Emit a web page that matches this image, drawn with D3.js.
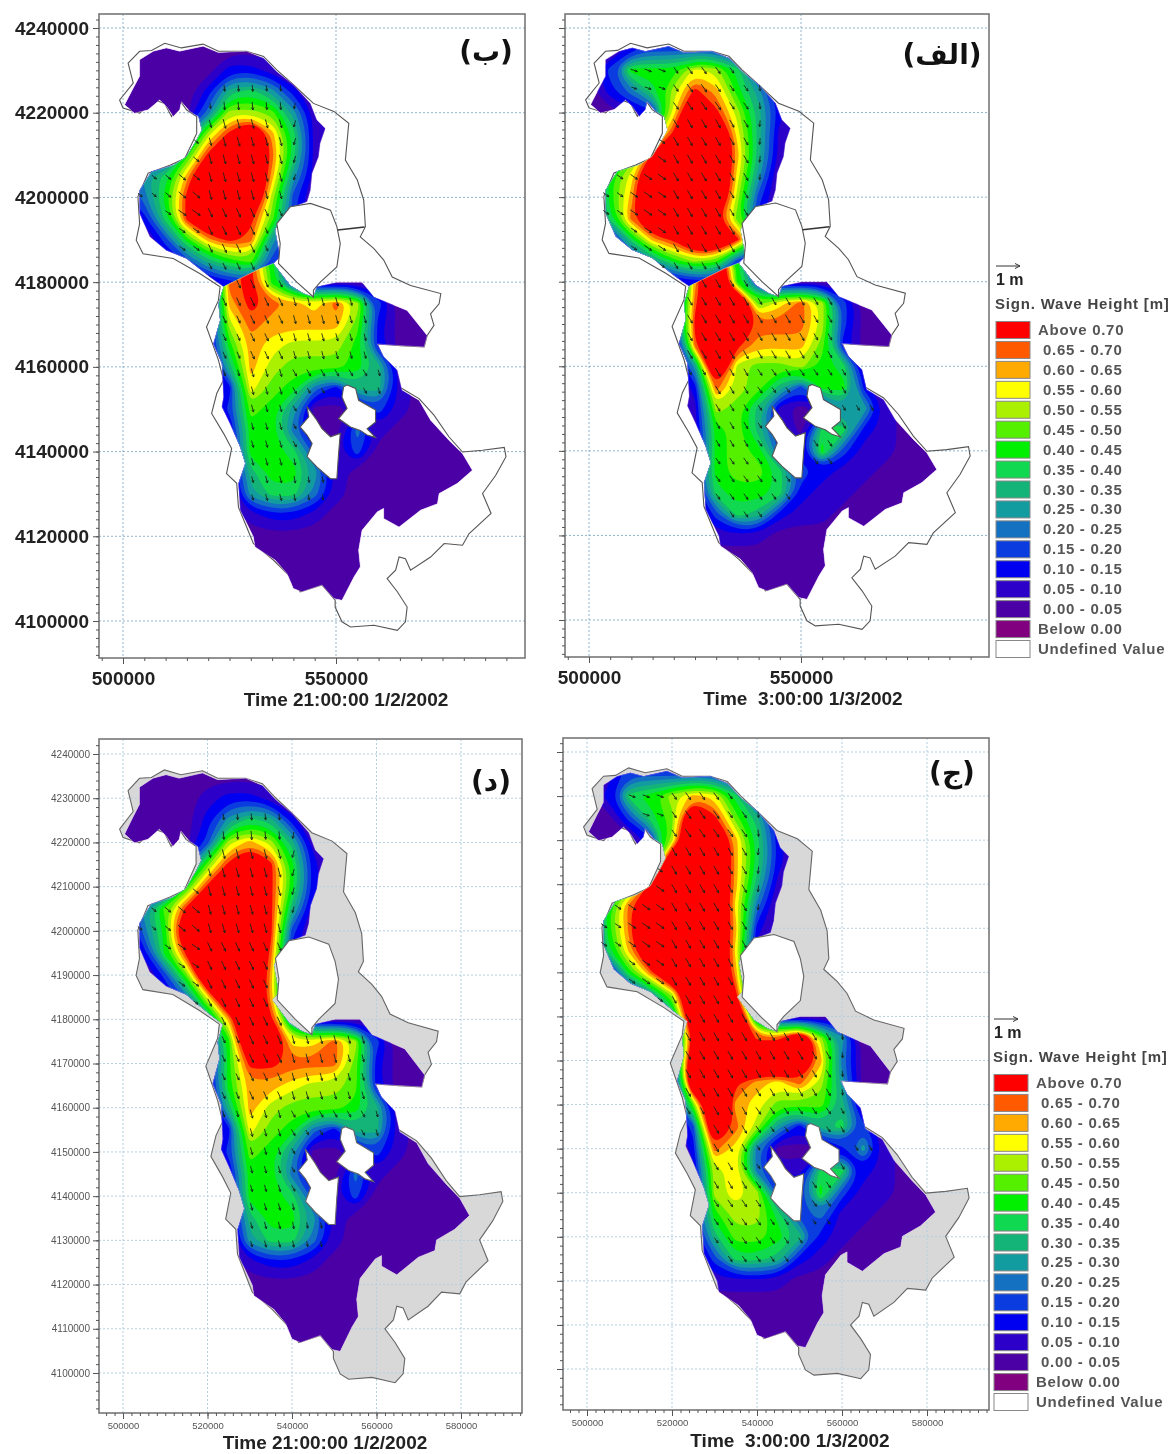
<!DOCTYPE html>
<html>
<head>
<meta charset="utf-8">
<script src="https://cdn.jsdelivr.net/npm/d3@7"></script>
<style>
  html, body { margin: 0; padding: 0; background: #fff; }
  svg { display: block; filter: blur(0.6px); font-family: "Liberation Sans", Arial, sans-serif; }
</style>
</head>
<body>
<svg id="chart" width="1171" height="1454"></svg>
<script>
// Wave height rows, 5 km apart in both directions, eastings start at 500 km.
// Each base-36 digit is a legend class: 0 = 0.00-0.05 m ... e = above 0.70 m, j = well above.
var bNorthRows = ["0","00000221","000026752","00004aa951","0004aejc71","0008ejjd71","057cjjjc51","248ejjja30","027ejje930","0038ced520","001368931","000012320"];
var bSouthRows = ["00000de83","00000de82","00000cedcbda3","00001adcccc92","000018cbaaa82","000006ca999861","000002b9842661","00000398500131","0000018840041","000001887313","00000068851","00000057741","0000001221","0"];
var aNorthRows = ["00233331","00233331","03888ba72","0247aec851","0012bjea62","0008ejjb61","008ejjjc61","08bjjjjb50","28cjjjja30","17djjje920","017cejje72","00258a931","000012210"];
var aSouthRows = ["00000ej83","00000cj82","00002djj9bda3","00002ejjddda3","00000djeccc92","000005ja99a871","000002da963882","000001a96101551","000001896207721","000000898328311","00000289973211","0000017887211","000000376211","000000111","0"];
var dRows = ["0","00001221","000025762","00003aca61","00039eje82","0008ejje82","059ejjje61","048jjjje30","028ejjjd20","0039jjjc1","0014bjjc1","00015cje50","000018jjbbda3","000018eeddd92","000018ccbaa92","000006ca999861","000002b9842661","00000398500131","0000018840041","000001887313","00000068851","00000057741","0000001221","0"];
var cRows = ["01333331","01333331","0278acb72","00379je961","0002ajjc72","0005jjjc72","008ejjjc61","08djjjjb40","08djjjjc20","07cjjjjb10","018djjjc1","0015ajje1","00015jjj5","00001ejjddja5","00001jjjjjjc4","00000jjecbda5","000019jcb9996","000003jda52673","000002db4000251","000001ab4117721","000000aba338311","0000028aa73411","0000016998621","000000377621","0000001111","0"];

// Arrow directions in degrees from north; rows 4230, 4210 ... 4130 km, columns 510, 530, 550, 570 km
var bDirs = [[150,175,190,190],[130,165,195,200],[125,155,170,170],[160,155,165,185],[170,165,150,165],[170,165,170,170]];
var aDirs = [[110,145,175,185],[125,150,185,190],[125,150,165,170],[155,150,150,175],[155,150,145,150],[150,145,145,150]];
var arrowEast = [504,507.3,510.6,513.9,517.2,520.5,523.8,527.1,530.4,533.7,537,540.3,543.6,546.9,550.2,553.5,556.8,560.1,563.4,566.7];
var arrowNorth = [4230,4225.8,4221.6,4217.4,4213.2,4209,4204.8,4200.6,4196.4,4192.2,4188,4183.8,4179.6,4175.4,4171.2,4167,4162.8,4158.6,4154.4,4150.2,4146,4141.8,4137.6,4133.4,4129.2,4125];

// Coast lines, [easting km, northing km]
var shoreline = [[501.2,4231.7],[503.9,4234.5],[506.7,4234.7],[509.8,4236.4],[513.7,4235.3],[518.8,4236.2],[522.4,4234.5],[529,4234.5],[533,4233.3],[536.1,4230.1],[540,4226.6],[544.7,4222.2],[549.5,4220.3],[553,4217.5],[552.2,4208.8],[555,4204.1],[556.5,4199.4],[556.9,4193.1],[555.7,4190.7],[558.9,4187.9],[561.2,4185.2],[563.2,4181.2],[567.5,4179.2],[574.6,4177.3],[574.2,4174.9],[572.2,4172.5],[573,4169.8],[571.4,4167.4],[570.7,4164.7],[565.2,4165],[559.7,4165.4],[562,4160],[564.8,4155.3],[569.5,4152.5],[573,4148.6],[576.5,4143.5],[579.7,4139.9],[584.4,4140.3],[589.5,4141],[589.9,4138.8],[587.5,4134.4],[584.4,4130.1],[586.4,4125.4],[581.2,4120.6],[579.7,4117.9],[575.4,4118.3],[572.2,4115.1],[567.5,4112],[566.3,4114.7],[564.8,4115.1],[564,4112],[562,4110],[564.4,4106.9],[566.7,4103.3],[566.3,4099.8],[564.4,4097.8],[558.9,4099],[553.4,4098.6],[551.4,4099.8],[549.8,4103.3],[549.8,4104.9],[546.7,4108.5],[541.6,4106.9],[539.3,4110.4],[535.3,4114.4],[530.6,4118.3],[527.1,4126.9],[526.7,4132.5],[524.3,4134.8],[525.5,4140.7],[523.6,4144.3],[520.8,4149],[522,4153.7],[523.6,4156.9],[522.4,4161.6],[519.6,4169.4],[522.4,4175.7],[522.8,4178.9],[518.1,4182],[511.8,4185.6],[504.7,4186.7],[503.1,4189.9],[503.9,4193.8],[503.5,4200.2],[505.9,4205.7],[511,4207.6],[514.5,4209.2],[517.3,4215.1],[517.3,4219.1],[514.9,4220.7],[513.3,4223],[511.4,4219.1],[509.8,4222.2],[507.5,4223],[503.9,4219.9],[500,4221.1],[499.2,4223],[502.4,4227]];
var peninsula = [[536.1,4193.8],[539.3,4197.8],[544,4198.6],[548.7,4197],[550.2,4193.1],[551,4189.1],[550.2,4183.6],[546.3,4180],[544.7,4178.1],[544.7,4176.5],[540.8,4180],[536.5,4184.4],[536.9,4189.1]];
var westIsland = [[543.2,4150.6],[545.5,4147.4],[546.7,4145.4],[548.7,4143.5],[551,4144.3],[550.6,4139.5],[550.2,4133.6],[548.7,4133.6],[545.5,4136.4],[543.2,4138.8],[544.4,4141.9],[543.2,4143.9],[541.6,4145.8],[543.6,4148.2]];
var eastIsland = [[552.6,4155.7],[554.6,4154.9],[555.3,4152.1],[559.3,4149.8],[559.3,4147],[557.3,4145.4],[559.3,4143.3],[557.3,4143.9],[555.7,4145],[553.4,4145.8],[550.6,4147.8],[552.6,4150.2],[551.4,4152.9],[551.8,4155.3]];
var wetNorthEast = [[500.4,4221.9],[502.4,4225.8],[503.9,4228.6],[503.9,4232.5],[507.1,4234.5],[510.2,4235.3],[513.3,4234.5],[518.8,4235.7],[522.4,4234.2],[529,4234.5],[533,4232.9],[536.1,4229.7],[540,4226.6],[544,4222.2],[545.5,4218.3],[547.5,4216.3],[546.3,4212.8],[545.9,4209.6],[544.4,4205.7],[544,4201.7],[543.2,4199],[540,4197.8],[537.3,4195.4],[535.7,4192.3],[536.9,4186],[535.3,4184.4]];
var causeway = [[532.2,4183.2],[523.6,4178.9]];
var wetNorthWest = [[520.4,4181.2],[514.9,4185.6],[510.2,4187.5],[506.3,4190.7],[503.9,4196.2],[503.9,4201.7],[506.7,4206.1],[511.8,4207.6],[514.9,4209.6],[517.3,4213.6],[518.5,4215.9],[517.7,4219.1],[515.7,4220.3],[513.7,4222.6],[513.3,4220.7],[511.8,4219.1],[510.2,4221.5],[508.6,4223],[505.9,4220.7],[502.7,4219.9]];
var wetSouth = [[539.3,4179.2],[542.4,4177.3],[544.7,4176.5],[545.5,4178.9],[550.2,4180],[556.1,4180],[558.9,4176.5],[562.8,4174.9],[566.7,4173.3],[571.4,4167.4],[570.7,4164.7],[565.2,4165],[559.7,4165.4],[561.2,4162.4],[564.4,4159.2],[565.5,4154.5],[569.5,4152.1],[572.2,4147.4],[576.5,4142.7],[579.7,4139.5],[582,4135.6],[578.5,4132.5],[574.2,4130.1],[573.8,4127.7],[569.9,4126.2],[564.8,4122.2],[561.2,4124.2],[561.2,4126.6],[559.7,4125.8],[556.1,4121.4],[555.3,4116.7],[555.7,4112.8],[554.2,4110.4],[551.4,4104.9],[549.5,4105.3],[546.7,4108.5],[542,4106.9],[540,4107.7],[538.5,4111.2],[535.7,4114.4],[531,4117.5],[530.6,4119.9],[527.5,4126.2],[527.1,4132.5],[528.7,4137.2],[527.5,4141.1],[525.1,4146.6],[523.2,4150.6],[523.6,4152.9],[523.2,4160.8],[521.2,4165.4],[522.8,4171],[522.4,4174.9]];
var dryDivider = [[550.4,4192.3],[556.7,4193]];

// Legend
var legendLabels = ["Above 0.70","0.65 - 0.70","0.60 - 0.65","0.55 - 0.60","0.50 - 0.55","0.45 - 0.50","0.40 - 0.45","0.35 - 0.40","0.30 - 0.35","0.25 - 0.30","0.20 - 0.25","0.15 - 0.20","0.10 - 0.15","0.05 - 0.10","0.00 - 0.05","Below 0.00","Undefined Value"];
var legendColors = ["#ff0000","#ff5a00","#ffaa00","#ffff00","#aaf000","#55f000","#00f000","#10d850","#14b478","#129ca0","#1470c0","#0a3ce0","#0000f0","#2c00c8","#4b00a5","#800080","#ffffff"];
// class colours from lowest to highest
var classColors = legendColors.slice(0, 15).reverse();

var svg = d3.select("#chart");

var wetTop = wetNorthEast.concat(causeway, wetNorthWest);
var wetBelow = causeway.slice().reverse().concat([wetNorthEast[wetNorthEast.length - 1]], wetSouth);
var wetWhole = wetNorthEast.concat(wetSouth, causeway.slice(1), wetNorthWest);

// Panel boxes and scales
var panels = [
  {id:"b", box:[99,14,525,658], xr:[123,336], xd:[500,550], yr:[28,621], layers:[{rows:bNorthRows, top:4235, wet:wetTop}, {rows:bSouthRows, top:4185, wet:wetBelow}],
   dirs:bDirs, grey:false, title:"Time 21:00:00 1/2/2002", titlePos:[346,706], tag:"(ب)", tagPos:[486,61]},
  {id:"a", box:[565,14,989,657], xr:[589,801], xd:[500,550], yr:[28,620], layers:[{rows:aNorthRows, top:4240, wet:wetTop}, {rows:aSouthRows, top:4185, wet:wetBelow}],
   dirs:aDirs, grey:false, title:"Time  3:00:00 1/3/2002", titlePos:[803,705], tag:"(الف)", tagPos:[942,64]},
  {id:"d", box:[99,739,522,1413], xr:[123,461], xd:[500,580], yr:[754,1373], layers:[{rows:dRows, top:4235, wet:wetWhole}],
   dirs:bDirs, grey:true, title:"Time 21:00:00 1/2/2002", titlePos:[325,1449], tag:"(د)", tagPos:[491,791]},
  {id:"c", box:[563,738,989,1410], xr:[587,927], xd:[500,580], yr:[752,1369], layers:[{rows:cRows, top:4240, wet:wetWhole}],
   dirs:aDirs, grey:true, title:"Time  3:00:00 1/3/2002", titlePos:[790,1447], tag:"(ج)", tagPos:[952,782]}
];

function ringPath(x, y, ring) {
  return "M" + ring.map(function(p) { return x(p[0]) + "," + y(p[1]); }).join("L") + "Z";
}

panels.forEach(function(p) {
  var x = d3.scaleLinear().domain(p.xd).range(p.xr);
  var y = d3.scaleLinear().domain([4240,4100]).range(p.yr);
  var g = svg.append("g");
  var left = p.box[0], top = p.box[1], right = p.box[2], bottom = p.box[3];

  // axis extents in data units
  var eastMin = x.invert(left), eastMax = x.invert(right);
  var northMin = y.invert(bottom), northMax = y.invert(top);
  var gridX = p.grey ? [500,520,540,560,580] : [500,550];
  var gridY = p.grey ? d3.range(4100,4241,10) : d3.range(4100,4241,20);
  var minorX = p.grey ? d3.range(496,596,2) : d3.range(495,592,5);
  var minorY = d3.range(4092,4244,2);

  // dry lake bed shows grey in the lower pair
  g.append("path").attr("d", ringPath(x, y, shoreline)).attr("fill", p.grey ? "#d8d8d8" : "#fff");

  // grid
  var gridG = g.append("g").attr("stroke", p.grey ? "#b4cfe0" : "#8fb4cc").attr("stroke-width", 1).attr("stroke-dasharray", "2,2");
  gridX.forEach(function(v) { gridG.append("line").attr("x1", x(v)).attr("x2", x(v)).attr("y1", top).attr("y2", bottom); });
  gridY.forEach(function(v) { gridG.append("line").attr("x1", left).attr("x2", right).attr("y1", y(v)).attr("y2", y(v)); });

  // coast lines
  var coastColor = p.grey ? "#666" : "#555";
  g.append("path").attr("d", ringPath(x, y, shoreline)).attr("fill", "none").attr("stroke", coastColor).attr("stroke-width", 1.1);

  // wave field, one clipped set of contour bands per basin
  p.layers.forEach(function(layer, li) {
    var clipId = "clip-" + p.id + li;
    svg.append("clipPath").attr("id", clipId).append("path").attr("d", ringPath(x, y, layer.wet));
    var rows = layer.rows.map(function(r) { return r.padEnd(19, "0"); });
    var values = [];
    rows.forEach(function(r) { r.split("").forEach(function(ch) { values.push(parseInt(ch, 36) + 0.5); }); });
    var contours = d3.contours().size([19, rows.length]).thresholds(d3.range(1, 15))(values);
    var smooth = d3.line()
      .x(function(c) { return x(500 + (c[0] - 0.5) * 5); })
      .y(function(c) { return y(layer.top - (c[1] - 0.5) * 5); })
      .curve(d3.curveBasisClosed);
    var bandPath = function(c) {
      return c.coordinates.map(function(poly) {
        return poly.map(function(ring) { return smooth(ring.slice(0, -1)); }).join("");
      }).join("");
    };
    var field = g.append("g").attr("clip-path", "url(#" + clipId + ")");
    field.append("path").attr("d", ringPath(x, y, layer.wet)).attr("fill", classColors[0]);
    field.selectAll("path.band").data(contours).enter().append("path").attr("class", "band")
      .attr("d", bandPath).attr("fill", function(c) { return classColors[c.value]; });

    // edge of the wet area has a pale lilac line
    g.append("path").attr("d", ringPath(x, y, layer.wet)).attr("fill", "none").attr("stroke", "#d9b8ee").attr("stroke-width", 0.7).attr("stroke-opacity", 0.6);

    // arrows
    var arrows = [];
    arrowNorth.forEach(function(n) {
      arrowEast.forEach(function(e) {
        if (!d3.polygonContains(layer.wet, [e, n])) return;
        if (d3.polygonContains(westIsland, [e, n]) || d3.polygonContains(eastIsland, [e, n])) return;
        var j = Math.round((layer.top - n) / 5), i = Math.round((e - 500) / 5);
        if (j < 0 || j >= rows.length || i > 18) return;
        var cls = parseInt(rows[j][i], 36);
        if (cls < 4) return;
        var row = Math.max(0, Math.min(5, Math.round((4230 - n) / 20)));
        var col = Math.max(0, Math.min(3, Math.round((e - 510) / 20)));
        arrows.push({e:e, n:n, cls:Math.min(cls, 14), dir:p.dirs[row][col]});
      });
    });
    g.selectAll("path.arrow" + li).data(arrows).enter().append("path").attr("class", "arrow" + li)
      .attr("fill", "none").attr("stroke", "#10251a").attr("stroke-width", 1).attr("stroke-opacity", 0.85)
      .attr("d", function(a) {
        var len = 4 + a.cls * 0.4, rad = a.dir * Math.PI / 180;
        var dx = Math.sin(rad), dy = -Math.cos(rad);
        var cx = x(a.e), cy = y(a.n);
        var tx = cx + dx * len / 2, ty = cy + dy * len / 2;
        return "M" + (cx - dx * len / 2) + "," + (cy - dy * len / 2) + "L" + tx + "," + ty
          + "M" + (tx - dx * 2.4 - dy * 1.2) + "," + (ty - dy * 2.4 + dx * 1.2) + "L" + tx + "," + ty
          + "L" + (tx - dx * 2.4 + dy * 1.2) + "," + (ty - dy * 2.4 - dx * 1.2);
      });
  });

  // peninsula and islands stay white
  [peninsula, westIsland, eastIsland].forEach(function(ring) {
    g.append("path").attr("d", ringPath(x, y, ring)).attr("fill", "#fff").attr("stroke", coastColor).attr("stroke-width", 1.1);
  });
  if (!p.grey) {
    g.append("path").attr("d", ringPath(x, y, dryDivider)).attr("fill", "none").attr("stroke", "#333").attr("stroke-width", 1.6);
  }

  // frame
  g.append("rect").attr("x", left).attr("y", top).attr("width", right - left).attr("height", bottom - top)
    .attr("fill", "none").attr("stroke", "#777").attr("stroke-width", 1.6);

  // axes
  var fmt = function(d) { return d3.format("d")(d * 1000); };
  var labelColor = p.grey ? "#555" : "#222";
  var yLabels = (p.id === "b" || p.id === "d");

  var yMinor = d3.axisLeft(y).tickValues(minorY.filter(function(v) { return v >= northMin && v <= northMax; })).tickSize(3).tickFormat("");
  var yMajor = d3.axisLeft(y).tickValues(gridY).tickSize(6).tickPadding(p.grey ? 3 : 4).tickFormat(yLabels ? fmt : "");
  var xMinor = d3.axisBottom(x).tickValues(minorX.filter(function(v) { return v >= eastMin && v <= eastMax; })).tickSize(3).tickFormat("");
  var xMajor = d3.axisBottom(x).tickValues(gridX).tickSize(6).tickPadding(p.grey ? 3 : 8).tickFormat(fmt);

  g.append("g").attr("transform", "translate(" + left + ",0)").call(yMajor).call(styleAxis, p.grey ? 10 : 19);
  g.append("g").attr("transform", "translate(" + left + ",0)").call(yMinor).call(styleAxis, 10);
  g.append("g").attr("transform", "translate(0," + bottom + ")").call(xMajor).call(styleAxis, p.grey ? 9.5 : 19);
  g.append("g").attr("transform", "translate(0," + bottom + ")").call(xMinor).call(styleAxis, 10);

  function styleAxis(sel, size) {
    sel.select(".domain").remove();
    sel.selectAll("line").attr("stroke", "#555").attr("stroke-width", 1);
    sel.selectAll("text").attr("font-size", size).attr("font-weight", p.grey ? "normal" : "bold").attr("fill", labelColor)
      .attr("font-family", '"Liberation Sans", Arial, sans-serif');
  }

  // time caption and Persian panel tag
  g.append("text").attr("x", p.titlePos[0]).attr("y", p.titlePos[1]).attr("text-anchor", "middle")
    .attr("font-size", 19).attr("font-weight", "bold").attr("fill", "#222").attr("xml:space", "preserve")
    .style("white-space", "pre").text(p.title);
  g.append("text").attr("x", p.tagPos[0]).attr("y", p.tagPos[1]).attr("text-anchor", "middle").attr("direction", "rtl")
    .attr("font-family", '"DejaVu Sans", sans-serif').attr("font-size", 28).attr("font-weight", "bold").attr("fill", "#111").text(p.tag);
});

// Legends
[{x:996, arrowY:266, unitY:285, titleY:309, firstY:330}, {x:994, arrowY:1019, unitY:1038, titleY:1062, firstY:1083}].forEach(function(l) {
  var g = svg.append("g");
  g.append("path").attr("d", "M" + l.x + "," + l.arrowY + "h24m-5,-2.5l5,2.5l-5,2.5").attr("fill", "none").attr("stroke", "#333").attr("stroke-width", 1);
  g.append("text").attr("x", l.x).attr("y", l.unitY).attr("font-size", 16).attr("font-weight", "bold").attr("fill", "#222").text("1 m");
  g.append("text").attr("x", l.x - 1).attr("y", l.titleY).attr("font-size", 15).attr("font-weight", "bold").attr("fill", "#444").style("letter-spacing", "0.8px").text("Sign. Wave Height [m]");
  var ly = d3.scaleLinear().domain([0, 16]).range([l.firstY, l.firstY + 319]);
  legendLabels.forEach(function(t, i) {
    g.append("rect").attr("x", l.x).attr("y", ly(i) - 8.5).attr("width", 34).attr("height", 17)
      .attr("fill", legendColors[i]).attr("stroke", "#888").attr("stroke-width", 1);
    var inset = (i === 0 || i >= 15) ? 42 : 47;
    g.append("text").attr("x", l.x + inset).attr("y", ly(i) + 5).attr("font-size", 15).attr("font-weight", "bold").attr("fill", "#555").style("letter-spacing", "0.7px").text(t);
  });
});
</script>
</body>
</html>
